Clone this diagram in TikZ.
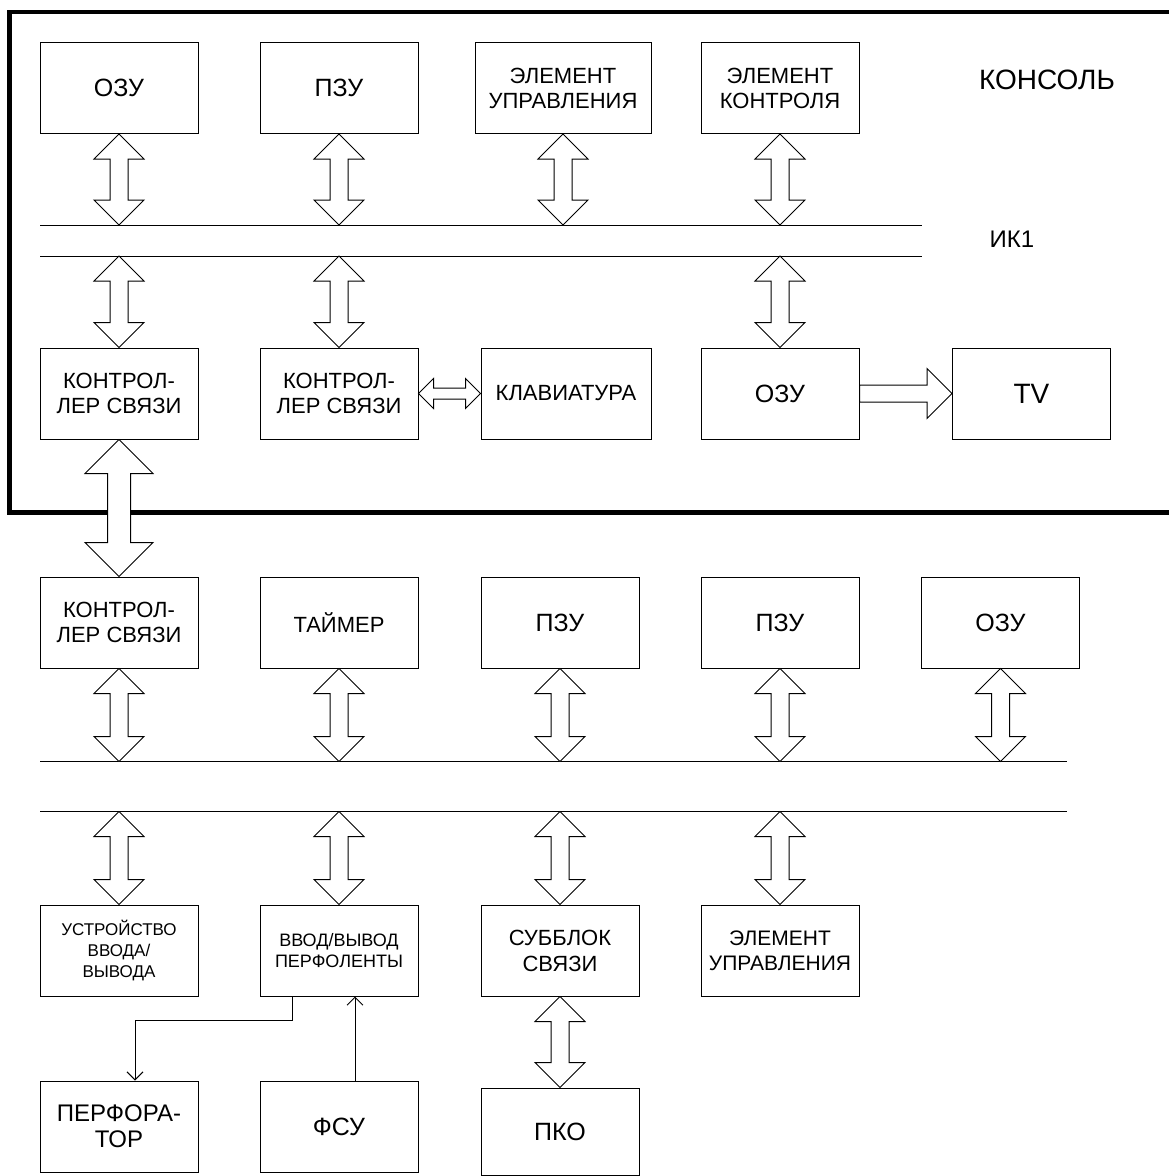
\documentclass[tikz,border=0pt]{standalone}
\usepackage{fontspec}
\setmainfont{Liberation Sans}
\usetikzlibrary{calc,arrows.meta}

\tikzset{
  blk/.style={draw, line width=1pt, minimum width=158pt, minimum height=91pt,
    align=center, inner sep=2pt},
  txtbig/.style={font=\fontsize{25}{28}\selectfont},
  txtmid/.style={font=\fontsize{22}{25}\selectfont},
  txtsmall/.style={font=\fontsize{18}{20.5}\selectfont},
  thin/.style={line width=1pt, -{Straight Barb[length=8pt,width=16pt]}}
}

% fat double arrow: from, to, half head width, half shaft width
\newcommand{\fatdbl}[4]{
  \coordinate (fa1) at ($(#1)!#3!(#2)$);
  \coordinate (fa2) at ($(#2)!#3!(#1)$);
  \draw[line width=1pt, fill=white, line join=miter]
    (#1) -- ($(fa1)!#3!90:(#2)$) -- ($(fa1)!#4!90:(#2)$)
    -- ($(fa2)!#4!-90:(#1)$) -- ($(fa2)!#3!-90:(#1)$) -- (#2)
    -- ($(fa2)!#3!90:(#1)$) -- ($(fa2)!#4!90:(#1)$)
    -- ($(fa1)!#4!-90:(#2)$) -- ($(fa1)!#3!-90:(#2)$) -- cycle;
}
% fat single arrow
\newcommand{\fatone}[4]{
  \coordinate (fa2) at ($(#2)!#3!(#1)$);
  \draw[line width=1pt, fill=white, line join=miter]
    ($(#1)!#4!90:(#2)$) -- ($(fa2)!#4!-90:(#1)$) -- ($(fa2)!#3!-90:(#1)$) -- (#2)
    -- ($(fa2)!#3!90:(#1)$) -- ($(fa2)!#4!90:(#1)$) -- ($(#1)!#4!-90:(#2)$) -- cycle;
}

\begin{document}
\begin{tikzpicture}[x=1pt, y=-1pt]
  \useasboundingbox (0,0) rectangle (1169,1176);

  % console frame
  \draw[line width=4.5pt] (1169,12) -- (9.5,12) -- (9.5,512.5) -- (1169,512.5);
  \node[font=\fontsize{28}{30}\selectfont] (konsol) at (1047,80) {КОНСОЛЬ};
  \node[font=\fontsize{24}{26}\selectfont] (ik1) at (1012,239) {ИК1};

  % buses
  \coordinate (busA1) at (40,225);
  \coordinate (busA2) at (40,256);
  \coordinate (busB1) at (40,761.5);
  \coordinate (busB2) at (40,811.5);
  \draw[line width=1pt] (busA1) -- (922,225);
  \draw[line width=1pt] (busA2) -- (922,256);
  \draw[line width=1pt] (busB1) -- (1067,761.5);
  \draw[line width=1.3pt] (busB2) -- (1067,811.5);

  % row 1
  \node[blk, txtbig] (ozuA) at (119,88) {ОЗУ};
  \node[blk, txtbig] (pzuA) at (339,88) {ПЗУ};
  \node[blk, txtmid, minimum width=176pt] (elupr) at (563,88) {ЭЛЕМЕНТ\\УПРАВЛЕНИЯ};
  \node[blk, txtmid] (elkon) at (780,88) {ЭЛЕМЕНТ\\КОНТРОЛЯ};

  % row 2
  \node[blk, txtmid] (ksvA) at (119,393.5) {КОНТРОЛ-\\ЛЕР СВЯЗИ};
  \node[blk, txtmid] (ksvB) at (339,393.5) {КОНТРОЛ-\\ЛЕР СВЯЗИ};
  \node[blk, txtmid, minimum width=170pt] (klav) at (566,393.5) {КЛАВИАТУРА};
  \node[blk, txtbig] (ozuB) at (780,393.5) {ОЗУ};
  \node[blk, font=\fontsize{28}{30}\selectfont] (tv) at (1031.5,393.5) {TV};

  % row 3
  \node[blk, txtmid] (ksvC) at (119,622.5) {КОНТРОЛ-\\ЛЕР СВЯЗИ};
  \node[blk, txtmid] (taimer) at (339,622.5) {ТАЙМЕР};
  \node[blk, txtbig] (pzuB) at (560,622.5) {ПЗУ};
  \node[blk, txtbig] (pzuC) at (780,622.5) {ПЗУ};
  \node[blk, txtbig] (ozuC) at (1000.5,622.5) {ОЗУ};

  % row 4
  \node[blk, font=\fontsize{17}{21}\selectfont] (uvv) at (119,950.5) {УСТРОЙСТВО\\ВВОДА/\\ВЫВОДА};
  \node[blk, txtsmall] (perf) at (339,950.5) {ВВОД/ВЫВОД\\ПЕРФОЛЕНТЫ};
  \node[blk, font=\fontsize{22}{26}\selectfont] (subb) at (560,950.5) {СУББЛОК\\СВЯЗИ};
  \node[blk, font=\fontsize{21}{25}\selectfont] (elupr2) at (780,950.5) {ЭЛЕМЕНТ\\УПРАВЛЕНИЯ};

  % row 5
  \node[blk, font=\fontsize{24}{26}\selectfont] (perfor) at (119,1126.5) {ПЕРФОРА-\\ТОР};
  \node[blk, txtbig] (fsu) at (339,1126.5) {ФСУ};
  \node[blk, txtbig, minimum height=87pt] (pko) at (560,1131.5) {ПКО};

  % fat arrows
  \foreach \n in {ozuA,pzuA,elupr,elkon}{
      \coordinate (tmp) at (\n.south |- busA1);
      \fatdbl{\n.south}{tmp}{25pt}{9pt}
  }
  \foreach \n in {ksvA,ksvB,ozuB}{
      \coordinate (tmp) at (\n.north |- busA2);
      \fatdbl{tmp}{\n.north}{25pt}{9pt}
  }
  \foreach \n in {ksvC,taimer,pzuB,pzuC,ozuC}{
      \coordinate (tmp) at (\n.south |- busB1);
      \fatdbl{\n.south}{tmp}{25pt}{9pt}
  }
  \foreach \n in {uvv,perf,subb,elupr2}{
      \coordinate (tmp) at (\n.north |- busB2);
      \fatdbl{tmp}{\n.north}{25pt}{9pt}
  }
  \fatdbl{ksvA.south}{ksvC.north}{34pt}{11.5pt}
  \fatdbl{ksvB.east}{klav.west}{15pt}{5.5pt}
  \fatone{ozuB.east}{tv.west}{25pt}{8.5pt}
  \fatdbl{subb.south}{pko.north}{25pt}{9pt}

  % thin arrows
  \coordinate (bend) at ([xshift=-47pt]perf.south);
  \draw[thin] (bend) -- ++(0,24) -| ([xshift=16pt]perfor.north);
  \draw[thin] ([xshift=16pt]fsu.north) -- ([xshift=16pt]fsu.north |- perf.south);
\end{tikzpicture}
\end{document}
